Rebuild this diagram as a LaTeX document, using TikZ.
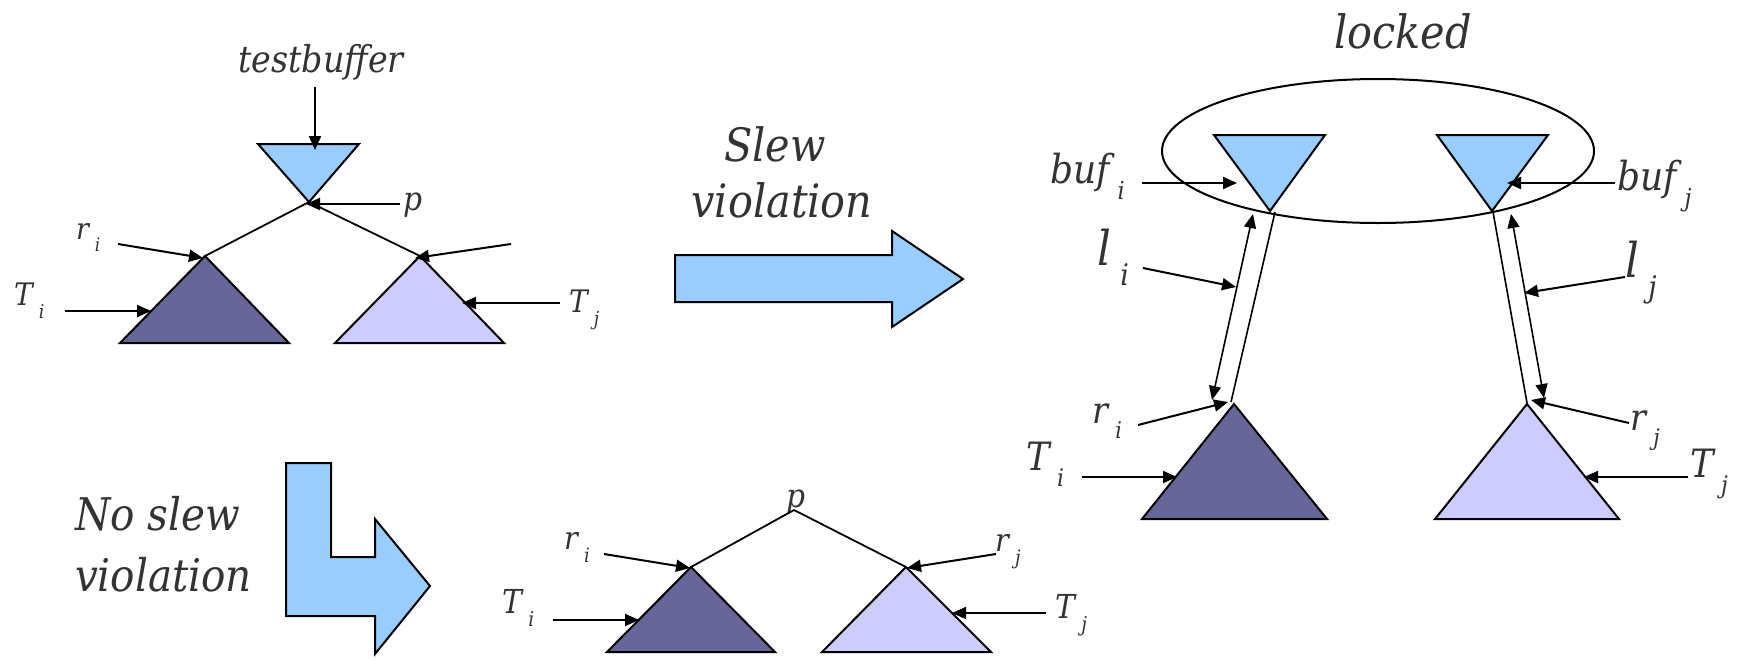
\documentclass[tikz,border=0pt]{standalone}
\usepackage{fontspec}
\usepackage{graphicx}
\newfontfamily\lblfont{DejaVu Serif Condensed}[ItalicFont={DejaVu Serif Condensed Italic}]
\usetikzlibrary{arrows.meta,shapes.geometric}
\definecolor{txt}{HTML}{333333}
\definecolor{bufblue}{HTML}{99CCFF}
\definecolor{darktri}{HTML}{666699}
\definecolor{lighttri}{HTML}{CCCCFF}
\newcommand\lsub[2]{#1\hspace{0.2em}\raisebox{-0.42em}{\scalebox{0.62}{#2}}}
\newcommand\fs[1]{\fontsize{#1}{#1}\selectfont}
\tikzset{
  lbl/.style={inner sep=0pt, outer sep=0pt, text=txt, font=\lblfont\itshape, anchor=base west},
  arr/.style={line width=2pt, -{Triangle[length=14pt,width=12pt]}},
  darr/.style={line width=1.6pt, {Triangle[length=14pt,width=12pt]}-{Triangle[length=14pt,width=12pt]}},
  edge/.style={line width=1.8pt},
  wire/.style={line width=1.6pt},
  tri/.style={draw=black, line width=2pt, line join=miter},
  bigarrow/.style={draw=black, line width=2pt, fill=bufblue, line join=miter},
}
\begin{document}
\begin{tikzpicture}[x=1pt,y=-1pt]
\useasboundingbox (0,0) rectangle (1747,659);
% ================= top-left tree =================
\coordinate (bA) at (309,202);
\draw[tri, fill=bufblue] (258,144) -- (359,144) -- (bA) -- cycle;
\coordinate (dA) at (205,256);
\draw[tri, fill=darktri] (dA) -- (120,343) -- (289,343) -- cycle;
\coordinate (lA) at (420,256);
\draw[tri, fill=lighttri] (lA) -- (335,343) -- (504,343) -- cycle;
\draw[edge] (bA) -- (dA);
\draw[edge] (bA) -- (lA);
\node[lbl, anchor=base, font=\lblfont\itshape\fs{37}] (tb) at (321,72) {testbuffer};
\coordinate (tbS) at (315,87); \coordinate (tbE) at (315,150);
\draw[arr] (tbS) -- (tbE);
\node[lbl, font=\lblfont\itshape\fs{33}] (p1) at (403,210) {p};
\coordinate (p1S) at (400,204); \coordinate (p1E) at (306,204);
\draw[arr] (p1S) -- (p1E);
\node[lbl, font=\lblfont\itshape\fs{30}] (ri1) at (76,239) {\lsub{r}{i}};
\coordinate (ri1S) at (118,244); \coordinate (ri1E) at (203,258);
\draw[arr] (ri1S) -- (ri1E);
\coordinate (rj1S) at (511,244); \coordinate (rj1E) at (415,258);
\draw[arr] (rj1S) -- (rj1E);
\node[lbl, font=\lblfont\itshape\fs{31}] (Ti1) at (14,305) {\lsub{T}{i}};
\coordinate (Ti1S) at (65,311); \coordinate (Ti1E) at (151,311);
\draw[arr] (Ti1S) -- (Ti1E);
\node[lbl, font=\lblfont\itshape\fs{31}] (Tj1) at (569,312) {\lsub{T}{j}};
\coordinate (Tj1S) at (560,303); \coordinate (Tj1E) at (462,303);
\draw[arr] (Tj1S) -- (Tj1E);
% ================= slew violation arrow =================
\draw[bigarrow] (675,255) -- (892,255) -- (892,231) -- (963,279) -- (892,327) -- (892,302) -- (675,302) -- cycle;
\node[lbl, anchor=base, font=\lblfont\itshape\fs{46}] (slew) at (775,161) {Slew};
\node[lbl, anchor=base, font=\lblfont\itshape\fs{46}] (viol) at (782,217) {violation};
% ================= right section =================
\node[lbl, anchor=base, font=\lblfont\itshape\fs{46}] (locked) at (1403,48) {locked};
\node[draw=black, line width=2pt, ellipse, minimum width=432pt, minimum height=144pt, inner sep=0pt] (ell) at (1378,151) {};
\coordinate (biA) at (1270,211);
\draw[tri, fill=bufblue] (1214,135) -- (1325,135) -- (biA) -- cycle;
\coordinate (bjA) at (1492,211);
\draw[tri, fill=bufblue] (1437,135) -- (1548,135) -- (bjA) -- cycle;
\coordinate (dA2) at (1234,404);
\draw[tri, fill=darktri] (dA2) -- (1142,519) -- (1327,519) -- cycle;
\coordinate (lA2) at (1527,404);
\draw[tri, fill=lighttri] (lA2) -- (1435,519) -- (1619,519) -- cycle;
% wires
\coordinate (wiT) at (1275,212); \coordinate (wiB) at (1231,402);
\draw[wire] (wiT) -- (wiB);
\coordinate (liT) at (1253,214); \coordinate (liB) at (1212,400);
\draw[darr] (liB) -- (liT);
\coordinate (wjT) at (1493,212); \coordinate (wjB) at (1527,403);
\draw[wire] (wjT) -- (wjB);
\coordinate (ljT) at (1511,214); \coordinate (ljB) at (1544,398);
\draw[darr] (ljB) -- (ljT);
% labels
\node[lbl, font=\lblfont\itshape\fs{40}] (bufi) at (1050,183) {\lsub{buf}{i}};
\coordinate (bufiS) at (1142,183); \coordinate (bufiE) at (1237,183);
\draw[arr] (bufiS) -- (bufiE);
\node[lbl, font=\lblfont\itshape\fs{40}] (bufj) at (1617,190) {\lsub{buf}{j}};
\coordinate (bufjS) at (1615,183); \coordinate (bufjE) at (1507,183);
\draw[arr] (bufjS) -- (bufjE);
\node[lbl, font=\lblfont\itshape\fs{48}] (li) at (1097,265) {\lsub{l}{i}};
\coordinate (liS) at (1143,268); \coordinate (liE) at (1236,287);
\draw[arr] (liS) -- (liE);
\node[lbl, font=\lblfont\itshape\fs{48}] (lj) at (1625,277) {\lsub{l}{j}};
\coordinate (ljS) at (1625,277); \coordinate (ljE) at (1524,293);
\draw[arr] (ljS) -- (ljE);
\node[lbl, font=\lblfont\itshape\fs{37}] (ri2) at (1092,423) {\lsub{r}{i}};
\coordinate (ri2S) at (1138,425); \coordinate (ri2E) at (1228,402);
\draw[arr] (ri2S) -- (ri2E);
\node[lbl, font=\lblfont\itshape\fs{37}] (rj2) at (1630,430) {\lsub{r}{j}};
\coordinate (rj2S) at (1629,423); \coordinate (rj2E) at (1531,400);
\draw[arr] (rj2S) -- (rj2E);
\node[lbl, font=\lblfont\itshape\fs{39}] (Ti2) at (1026,470) {\lsub{T}{i}};
\coordinate (Ti2S) at (1082,477); \coordinate (Ti2E) at (1177,477);
\draw[arr] (Ti2S) -- (Ti2E);
\node[lbl, font=\lblfont\itshape\fs{39}] (Tj2) at (1690,477) {\lsub{T}{j}};
\coordinate (Tj2S) at (1688,477); \coordinate (Tj2E) at (1584,477);
\draw[arr] (Tj2S) -- (Tj2E);
% ================= no slew violation =================
\draw[bigarrow] (286,463) -- (331,463) -- (331,557) -- (375,557) -- (375,519) -- (430,586) -- (375,654) -- (375,616) -- (286,616) -- cycle;
\node[lbl, font=\lblfont\itshape\fs{45}] (noslew) at (75,530) {No slew};
\node[lbl, font=\lblfont\itshape\fs{45}] (noviol) at (75,591) {violation};
% bottom tree
\coordinate (pB) at (794,510);
\node[lbl, font=\lblfont\itshape\fs{33}] (p3) at (786,507) {p};
\coordinate (dA3) at (691,567);
\draw[tri, fill=darktri] (dA3) -- (607,652) -- (775,652) -- cycle;
\coordinate (lA3) at (906,567);
\draw[tri, fill=lighttri] (lA3) -- (822,652) -- (991,652) -- cycle;
\draw[edge] (pB) -- (dA3);
\draw[edge] (pB) -- (lA3);
\node[lbl, font=\lblfont\itshape\fs{32}] (ri3) at (564,549) {\lsub{r}{i}};
\coordinate (ri3S) at (604,554); \coordinate (ri3E) at (690,568);
\draw[arr] (ri3S) -- (ri3E);
\node[lbl, font=\lblfont\itshape\fs{32}] (rj3) at (995,551) {\lsub{r}{j}};
\coordinate (rj3S) at (996,554); \coordinate (rj3E) at (907,568);
\draw[arr] (rj3S) -- (rj3E);
\node[lbl, font=\lblfont\itshape\fs{33}] (Ti3) at (502,613) {\lsub{T}{i}};
\coordinate (Ti3S) at (553,620); \coordinate (Ti3E) at (639,620);
\draw[arr] (Ti3S) -- (Ti3E);
\node[lbl, font=\lblfont\itshape\fs{33}] (Tj3) at (1055,618) {\lsub{T}{j}};
\coordinate (Tj3S) at (1046,613); \coordinate (Tj3E) at (952,613);
\draw[arr] (Tj3S) -- (Tj3E);
\end{tikzpicture}
\end{document}
